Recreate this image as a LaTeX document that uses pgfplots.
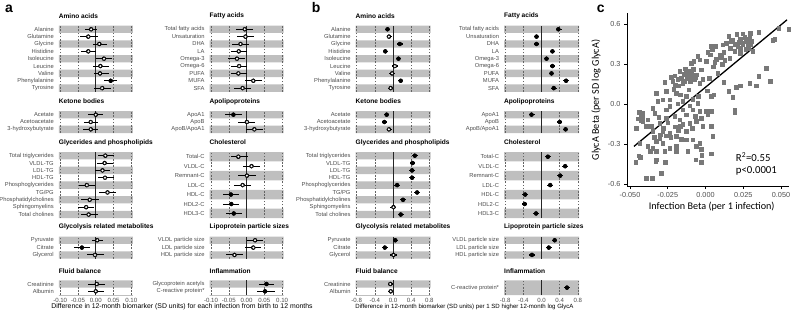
\documentclass[border=0pt]{standalone}
\usepackage{fontspec}
\setmainfont{Liberation Sans}
\newfontfamily\carlito{Carlito}
\usepackage{pgfplots}
\pgfplotsset{compat=1.18}
\definecolor{bandc}{RGB}{191,191,191}
\definecolor{labc}{RGB}{77,77,77}
\definecolor{gridc}{RGB}{100,100,100}
\definecolor{ptc}{RGB}{120,120,120}
\newcommand\lbl{\fontsize{5.8}{6.5}\selectfont}
\newcommand\ttl{\fontsize{6.6}{7.5}\selectfont\bfseries}
\tikzset{gridd/.style={gridc, line width=0.45bp, dash pattern=on 1.6bp off 1.6bp},
 zerol/.style={black!85, line width=0.7bp}}
\pgfplotsset{
 fgrp/.style={scale only axis, y dir=reverse, axis line style={draw=none},
   major tick length=0pt, tick style={draw=none}, xtick=\empty,
   yticklabel style={font=\lbl, text=labc, xshift=-1.5bp}, clip=true},
 ax/.style={width=74bp, xmin=-0.104, xmax=0.104},
 bx/.style={width=75bp, xmin=-0.825, xmax=0.825},
 abot/.style={xtick={-0.1,-0.05,0,0.05,0.1}, xticklabels={-0.10,-0.05,0.00,0.05,0.10},
   xticklabel style={font=\fontsize{6.1}{7}\selectfont, text=labc}},
 bbot/.style={xtick={-0.8,-0.4,0,0.4,0.8}, xticklabels={-0.8,-0.4,0.0,0.4,0.8},
   xticklabel style={font=\fontsize{6.1}{7}\selectfont, text=labc}},
}
\def\gonea{0.05}\def\gtwoa{0.1}\def\goneb{0.4}\def\gtwob{0.8}
\def\ebwa{0.9bp}\def\ebwb{1.2bp}
% #1 type a/b, #2 x left, #3 top, #4 height, #5 rows, #6 title, #7 labels, #8 data, #9 extra
\newcommand{\grp}[9]{%
 \def\bc{}\foreach \i in {1,3,...,#5}{\xdef\bc{\bc (12,\i) (-12,\i)}}%
 \pgfmathsetmacro\ymx{#5+0.5}%
 \edef\gOne{\csname gone#1\endcsname}\edef\gTwo{\csname gtwo#1\endcsname}%
 \edef\ebw{\csname ebw#1\endcsname}%
 \begin{axis}[fgrp, #1x, at={(#2bp,-#3bp)}, anchor=north west, height=#4bp,
   ymin=0.5, ymax=\ymx, ytick={1,...,#5}, yticklabels={#7}, #9]
 \edef\tmp{\noexpand\addplot[xbar, bar width=1, fill=bandc, draw=none, forget plot] coordinates {\bc};}\tmp
 \draw[gridd] ({axis cs:-\gTwo,1}|-{rel axis cs:0,0}) -- ({axis cs:-\gTwo,1}|-{rel axis cs:0,1});
 \draw[gridd] ({axis cs:-\gOne,1}|-{rel axis cs:0,0}) -- ({axis cs:-\gOne,1}|-{rel axis cs:0,1});
 \draw[gridd] ({axis cs:\gOne,1}|-{rel axis cs:0,0}) -- ({axis cs:\gOne,1}|-{rel axis cs:0,1});
 \draw[gridd] ({axis cs:\gTwo,1}|-{rel axis cs:0,0}) -- ({axis cs:\gTwo,1}|-{rel axis cs:0,1});
 \draw[zerol] ({axis cs:0,1}|-{rel axis cs:0,0}) -- ({axis cs:0,1}|-{rel axis cs:0,1});
 \addplot[only marks, mark=none, forget plot, error bars/.cd, x dir=both, x explicit,
   error mark=none, error bar style={line width=\ebw, black}]
   table[row sep=\\, x=e, y=r, x error plus expr=\thisrow{h}-\thisrow{e},
     x error minus expr=\thisrow{e}-\thisrow{l}] {#8};
 \addplot[scatter, only marks, scatter src=explicit symbolic, mark size=1.8bp,
   scatter/classes={o={mark=*, fill=white, draw=black, line width=0.6bp},
                    f={mark=*, fill=black, draw=black, line width=0.6bp}}]
   table[row sep=\\, x=e, y=r, meta=s] {#8};
 \end{axis}
 \node[anchor=west, font=\ttl, inner sep=0pt] at (#2bp,{-(#3-9.6)*1bp}) {#6};
}
\begin{document}
\begin{tikzpicture}
\useasboundingbox (0,0) rectangle (795bp,-313bp);
% ---------------- panel a ----------------
\grp{a}{58.7}{25.6}{66.2}{9}{Amino acids}
 {Alanine,Glutamine,Glycine,Histidine,Isoleucine,Leucine,Valine,Phenylalanine,Tyrosine}
 {r e l h s \\ 1 -0.013 -0.030 0.003 o \\ 2 -0.021 -0.044 0.005 o \\ 3 0.010 -0.008 0.033 o \\
  4 -0.021 -0.042 0.001 o \\ 5 0.023 0.000 0.046 o \\ 6 0.013 -0.009 0.036 o \\
  7 0.012 -0.006 0.036 o \\ 8 0.042 0.022 0.061 f \\ 9 0.018 -0.004 0.043 o \\}{}
\grp{a}{58.7}{111}{22}{3}{Ketone bodies}
 {Acetate,Acetoacetate,3-hydroxybutyrate}
 {r e l h s \\ 1 0.000 -0.021 0.020 o \\ 2 -0.014 -0.032 0.006 o \\ 3 -0.014 -0.035 0.006 o \\}{}
\grp{a}{58.7}{152}{66.2}{9}{Glycerides and phospholipids}
 {Total triglycerides,VLDL-TG,LDL-TG,HDL-TG,Phosphoglycerides,TG/PG,Phosphatidylcholines,Sphingomyelins,Total cholines}
 {r e l h s \\ 1 0.027 0.005 0.050 o \\ 2 0.025 0.003 0.048 o \\ 3 0.019 -0.002 0.041 o \\
  4 0.026 0.005 0.050 o \\ 5 -0.025 -0.047 -0.002 o \\ 6 0.033 0.010 0.056 o \\
  7 -0.017 -0.041 0.008 o \\ 8 -0.027 -0.050 -0.004 o \\ 9 -0.020 -0.042 0.005 o \\}{}
\grp{a}{58.7}{236.6}{22}{3}{Glycolysis related metabolites}
 {Pyruvate,Citrate,Glycerol}
 {r e l h s \\ 1 0.004 -0.010 0.019 o \\ 2 -0.039 -0.061 -0.016 f \\ 3 -0.002 -0.026 0.023 o \\}{}
\grp{a}{58.7}{280.3}{14.7}{2}{Fluid balance}
 {Creatinine,Albumin}
 {r e l h s \\ 1 0.003 -0.021 0.027 o \\ 2 0.000 -0.023 0.022 o \\}{abot}
\grp{a}{209.5}{25.6}{66.2}{9}{Fatty acids}
 {Total fatty acids,Unsaturation,DHA,LA,Omega-3,Omega-6,PUFA,MUFA,SFA}
 {r e l h s \\ 1 -0.005 -0.030 0.019 o \\ 2 -0.003 -0.027 0.020 o \\ 3 -0.017 -0.040 0.006 o \\
  4 -0.022 -0.044 0.001 o \\ 5 -0.027 -0.051 -0.004 o \\ 6 -0.021 -0.043 0.002 o \\
  7 -0.023 -0.045 0.000 o \\ 8 0.019 -0.005 0.043 o \\ 9 -0.011 -0.035 0.012 o \\}{}
\grp{a}{209.5}{111}{22}{3}{Apolipoproteins}
 {ApoA1,ApoB,ApoB/ApoA1}
 {r e l h s \\ 1 -0.037 -0.060 -0.013 f \\ 2 0.001 -0.023 0.025 o \\ 3 0.022 -0.001 0.045 o \\}{}
\grp{a}{209.5}{152}{66.2}{7}{Cholesterol}
 {Total-C,VLDL-C,Remnant-C,LDL-C,HDL-C,HDL2-C,HDL3-C}
 {r e l h s \\ 1 -0.023 -0.045 0.003 o \\ 2 0.014 -0.009 0.038 o \\ 3 0.001 -0.023 0.026 o \\
  4 -0.011 -0.034 0.012 o \\ 5 -0.044 -0.066 -0.021 f \\ 6 -0.043 -0.066 -0.021 f \\
  7 -0.036 -0.058 -0.013 f \\}{}
\grp{a}{209.5}{236.6}{22}{3}{Lipoprotein particle sizes}
 {VLDL particle size,LDL particle size,HDL particle size}
 {r e l h s \\ 1 0.024 0.000 0.047 o \\ 2 0.019 -0.005 0.042 o \\ 3 -0.034 -0.057 -0.011 o \\}{}
\grp{a}{209.5}{280.3}{14.7}{2}{Inflammation}
 {Glycoprotein acetyls,C-reactive protein*}
 {r e l h s \\ 1 0.056 0.035 0.078 f \\ 2 0.052 0.029 0.080 f \\}{abot}
% ---------------- panel b ----------------
\grp{b}{355.5}{25.6}{66.2}{9}{Amino acids}
 {Alanine,Glutamine,Glycine,Histidine,Isoleucine,Leucine,Valine,Phenylalanine,Tyrosine}
 {r e l h s \\ 1 -0.12 -0.17 -0.06 f \\ 2 -0.09 -0.14 -0.02 o \\ 3 0.15 0.09 0.21 f \\
  4 -0.17 -0.23 -0.12 f \\ 5 0.12 0.06 0.18 f \\ 6 0.04 -0.02 0.10 o \\
  7 -0.02 -0.08 0.04 o \\ 8 0.17 0.12 0.23 f \\ 9 -0.05 -0.11 0.01 o \\}{}
\grp{b}{355.5}{111}{22}{3}{Ketone bodies}
 {Acetate,Acetoacetate,3-hydroxybutyrate}
 {r e l h s \\ 1 -0.14 -0.19 -0.08 f \\ 2 -0.19 -0.25 -0.13 f \\ 3 -0.09 -0.14 -0.02 o \\}{}
\grp{b}{355.5}{152}{66.2}{9}{Glycerides and phospholipids}
 {Total triglycerides,VLDL-TG,LDL-TG,HDL-TG,Phosphoglycerides,TG/PG,Phosphatidylcholines,Sphingomyelins,Total cholines}
 {r e l h s \\ 1 0.48 0.42 0.54 f \\ 2 0.43 0.37 0.49 f \\ 3 0.42 0.35 0.48 f \\
  4 0.42 0.35 0.48 f \\ 5 0.09 0.02 0.15 f \\ 6 0.53 0.47 0.59 f \\
  7 0.22 0.16 0.29 f \\ 8 0.01 -0.06 0.07 o \\ 9 0.17 0.11 0.24 f \\}{}
\grp{b}{355.5}{236.6}{22}{3}{Glycolysis related metabolites}
 {Pyruvate,Citrate,Glycerol}
 {r e l h s \\ 1 0.05 -0.01 0.11 f \\ 2 -0.18 -0.24 -0.12 f \\ 3 0.01 -0.06 0.08 o \\}{}
\grp{b}{355.5}{280.3}{14.7}{2}{Fluid balance}
 {Creatinine,Albumin}
 {r e l h s \\ 1 -0.06 -0.12 0.01 o \\ 2 -0.05 -0.12 0.01 o \\}{bbot}
\grp{b}{504}{25.6}{66.2}{9}{Fatty acids}
 {Total fatty acids,Unsaturation,DHA,LA,Omega-3,Omega-6,PUFA,MUFA,SFA}
 {r e l h s \\ 1 0.37 0.32 0.44 f \\ 2 -0.11 -0.17 -0.05 f \\ 3 -0.11 -0.17 -0.05 f \\
  4 0.24 0.18 0.30 f \\ 5 0.11 0.05 0.17 f \\ 6 0.24 0.18 0.30 f \\
  7 0.22 0.16 0.28 f \\ 8 0.54 0.48 0.61 f \\ 9 0.27 0.21 0.34 f \\}{}
\grp{b}{504}{111}{22}{3}{Apolipoproteins}
 {ApoA1,ApoB,ApoB/ApoA1}
 {r e l h s \\ 1 -0.22 -0.27 -0.15 f \\ 2 0.40 0.34 0.46 f \\ 3 0.53 0.47 0.59 f \\}{}
\grp{b}{504}{152}{66.2}{7}{Cholesterol}
 {Total-C,VLDL-C,Remnant-C,LDL-C,HDL-C,HDL2-C,HDL3-C}
 {r e l h s \\ 1 0.14 0.08 0.21 f \\ 2 0.52 0.46 0.58 f \\ 3 0.41 0.35 0.48 f \\
  4 0.19 0.12 0.25 f \\ 5 -0.36 -0.42 -0.30 f \\ 6 -0.37 -0.43 -0.31 f \\
  7 -0.12 -0.18 -0.05 f \\}{}
\grp{b}{504}{236.6}{22}{3}{Lipoprotein particle sizes}
 {VLDL particle size,LDL particle size,HDL particle size}
 {r e l h s \\ 1 0.29 0.22 0.35 f \\ 2 0.16 0.09 0.22 f \\ 3 -0.21 -0.27 -0.14 f \\}{}
\grp{b}{504}{280.3}{14.7}{1}{Inflammation}
 {C-reactive protein*}
 {r e l h s \\ 1 0.56 0.50 0.63 f \\}{bbot}
% axis titles a, b
\node[font=\fontsize{6.9}{7.5}\selectfont] at (182bp,-307bp) {Difference in 12-month biomarker (SD units) for each infection from birth to 12 months};
\node[font=\fontsize{6.1}{7}\selectfont] at (464.5bp,-307bp) {Difference in 12-month biomarker (SD units) per 1 SD higher 12-month log GlycA};
% ---------------- panel c ----------------
\begin{axis}[at={(627bp,-186bp)}, anchor=south west, width=162bp, height=173bp, scale only axis,
  xmin=-0.052, xmax=0.0553, ymin=-0.615, ymax=0.683,
  scaled x ticks=false, scaled y ticks=false,
  axis lines=left, axis line style={-, black, line width=0.7bp},
  tick align=outside, major tick length=3bp, tick style={black, line width=0.6bp},
  xtick={-0.05,-0.025,0,0.025,0.05}, xticklabels={-0.050,-0.025,0.000,0.025,0.050},
  ytick={-0.6,-0.3,0,0.3,0.6}, yticklabels={-0.6,-0.3,0.0,0.3,0.6},
  ticklabel style={font=\fontsize{7.3}{8}\selectfont, text=labc}, clip=false]
\addplot[only marks, mark=square*, mark size=1.75bp, color=ptc] table[row sep=\\] {
x y \\
0.0485 0.570 \\ 0.0552 0.563 \\ 0.0353 0.538 \\ 0.0296 0.533 \\ 0.0247 0.528 \\ 0.0207 0.525 \\
0.0154 0.508 \\ 0.0457 0.488 \\ 0.0446 0.478 \\ 0.0291 0.508 \\ 0.0258 0.500 \\ 0.0229 0.488 \\
0.0269 0.470 \\ 0.0302 0.470 \\ 0.0181 0.483 \\ 0.0137 0.458 \\ 0.0066 0.433 \\ 0.0038 0.433 \\
0.0115 0.445 \\ 0.0247 0.445 \\ 0.0280 0.433 \\ 0.0265 0.413 \\ 0.0214 0.433 \\ 0.0192 0.395 \\
0.0163 0.420 \\ 0.0229 0.383 \\ 0.0313 0.395 \\ 0.0119 0.388 \\ 0.0093 0.370 \\ 0.0044 0.408 \\
0.0015 0.388 \\ -0.0051 0.358 \\ 0.0031 0.370 \\ 0.0104 0.353 \\ 0.0071 0.338 \\ 0.0060 0.313 \\
0.0004 0.320 \\ -0.0040 0.333 \\ -0.0079 0.320 \\ -0.0095 0.308 \\ 0.0126 0.328 \\ 0.0159 0.345 \\
-0.0128 0.245 \\ -0.0106 0.228 \\ -0.0088 0.208 \\ -0.0073 0.183 \\ -0.0117 0.195 \\ -0.0139 0.170 \\
-0.0062 0.220 \\ -0.0172 0.245 \\ -0.0205 0.213 \\ -0.0227 0.203 \\ -0.0216 0.170 \\ -0.0150 0.158 \\
-0.0040 0.158 \\ -0.0018 0.188 \\ 0.0026 0.195 \\ -0.0029 0.258 \\ -0.0177 0.138 \\ 0.0402 0.270 \\
0.0353 0.208 \\ 0.0428 0.170 \\ 0.0335 0.138 \\ 0.0291 0.158 \\ 0.0229 0.138 \\ 0.0203 0.128 \\
0.0119 0.163 \\ 0.0154 0.095 \\ 0.0181 0.053 \\ 0.0192 -0.043 \\ 0.0194 -0.063 \\ 0.0055 0.070 \\
0.0038 0.058 \\ -0.0269 0.163 \\ -0.0260 0.095 \\ -0.0238 0.033 \\ -0.0212 0.113 \\ -0.0194 0.083 \\
-0.0168 0.070 \\ -0.0128 0.058 \\ -0.0110 0.108 \\ -0.0084 0.038 \\ -0.0051 0.008 \\ -0.0106 -0.013 \\
-0.0183 0.003 \\ -0.0238 -0.018 \\ -0.0260 -0.043 \\ -0.0282 0.033 \\ -0.0316 0.020 \\ -0.0327 0.083 \\
-0.0349 -0.030 \\ -0.0150 -0.043 \\ -0.0084 -0.043 \\ -0.0040 -0.055 \\ 0.0004 -0.055 \\ 0.0015 -0.080 \\
0.0038 -0.055 \\ -0.0426 -0.080 \\ -0.0419 -0.098 \\ -0.0415 -0.130 \\ -0.0338 -0.068 \\ -0.0382 -0.118 \\
-0.0305 -0.143 \\ -0.0360 -0.168 \\ -0.0260 -0.105 \\ -0.0205 -0.093 \\ -0.0172 -0.118 \\ -0.0128 -0.080 \\
-0.0106 -0.143 \\ -0.0062 -0.130 \\ -0.0029 -0.105 \\ -0.0088 -0.180 \\ -0.0128 -0.205 \\ -0.0168 -0.168 \\
-0.0018 -0.168 \\ -0.0393 -0.168 \\ -0.0349 -0.205 \\ -0.0282 -0.205 \\ -0.0260 -0.238 \\ -0.0305 -0.255 \\
-0.0327 -0.280 \\ -0.0238 -0.218 \\ -0.0194 -0.243 \\ -0.0161 -0.263 \\ -0.0128 -0.268 \\ -0.0084 -0.268 \\
-0.0040 -0.293 \\ 0.0049 -0.243 \\ 0.0038 -0.168 \\ -0.0459 -0.180 \\ -0.0437 -0.293 \\ -0.0382 -0.318 \\
-0.0349 -0.330 \\ -0.0282 -0.293 \\ -0.0238 -0.330 \\ -0.0194 -0.318 \\ -0.0062 -0.318 \\ -0.0029 -0.338 \\
-0.0444 -0.388 \\ -0.0432 -0.398 \\ -0.0463 -0.438 \\ -0.0366 -0.355 \\ -0.0327 -0.355 \\ -0.0327 -0.418 \\
-0.0331 -0.430 \\ -0.0267 -0.438 \\ -0.0271 -0.355 \\ -0.0194 -0.355 \\ -0.0117 -0.355 \\ -0.0066 -0.418 \\
-0.0029 -0.438 \\ -0.0024 -0.385 \\ 0.0038 -0.373 \\ -0.0293 -0.518 \\ -0.0393 -0.555 \\ -0.0353 -0.555 \\
0.0220 0.465 \\ 0.0245 0.455 \\ 0.0275 0.490 \\ 0.0195 0.450 \\ 0.0300 0.450 \\ 0.0170 0.470 \\
0.0230 0.420 \\ 0.0285 0.415 \\ -0.0140 0.225 \\ -0.0120 0.210 \\ -0.0095 0.245 \\ -0.0160 0.195 \\
-0.0100 0.170 \\ -0.0080 0.260 \\ -0.0185 0.185 \\ -0.0135 0.265 \\ -0.0065 0.200 \\ -0.0110 0.190 \\
-0.0440 -0.060 \\ -0.0445 -0.110 \\ -0.0430 -0.120 \\ -0.0420 -0.065 \\ -0.0250 -0.140 \\ -0.0200 -0.170 \\
-0.0150 -0.150 \\ -0.0280 -0.180 \\ -0.0230 -0.250 \\ -0.0180 -0.200 \\ -0.0300 -0.230 \\ -0.0150 0.020 \\
-0.0050 0.060 \\ -0.0070 -0.090 \\ 0.0010 0.100 \\ 0.0080 0.230 \\ 0.0050 0.280 \\ 0.0110 0.300 \\
-0.0200 0.140 \\ -0.0310 -0.100 \\ -0.0340 -0.250 \\
};
\addplot[black, line width=1.3bp, mark=none] coordinates {(-0.0474,-0.318) (0.054,0.632)};
\end{axis}
\node[font=\carlito\fontsize{10.2}{11}\selectfont, rotate=90] at (596bp,-100bp) {GlycA Beta (per SD log GlycA)};
\node[font=\carlito\fontsize{10.2}{11}\selectfont] at (711.7bp,-206.5bp) {Infection Beta (per 1 infection)};
\node[font=\carlito\fontsize{10.8}{12}\selectfont, anchor=west, inner sep=0pt] at (735.7bp,-157.3bp) {R\textsuperscript{2}=0.55};
\node[font=\carlito\fontsize{10.8}{12}\selectfont, anchor=west, inner sep=0pt] at (735.7bp,-171bp) {p<0.0001};
% panel letters
\node[font=\fontsize{14}{14}\selectfont\bfseries, anchor=base west, inner sep=0pt] at (5bp,-12.7bp) {a};
\node[font=\fontsize{14}{14}\selectfont\bfseries, anchor=base west, inner sep=0pt] at (311.7bp,-12bp) {b};
\node[font=\fontsize{14}{14}\selectfont\bfseries, anchor=base west, inner sep=0pt] at (596.7bp,-12.7bp) {c};
\end{tikzpicture}
\end{document}
